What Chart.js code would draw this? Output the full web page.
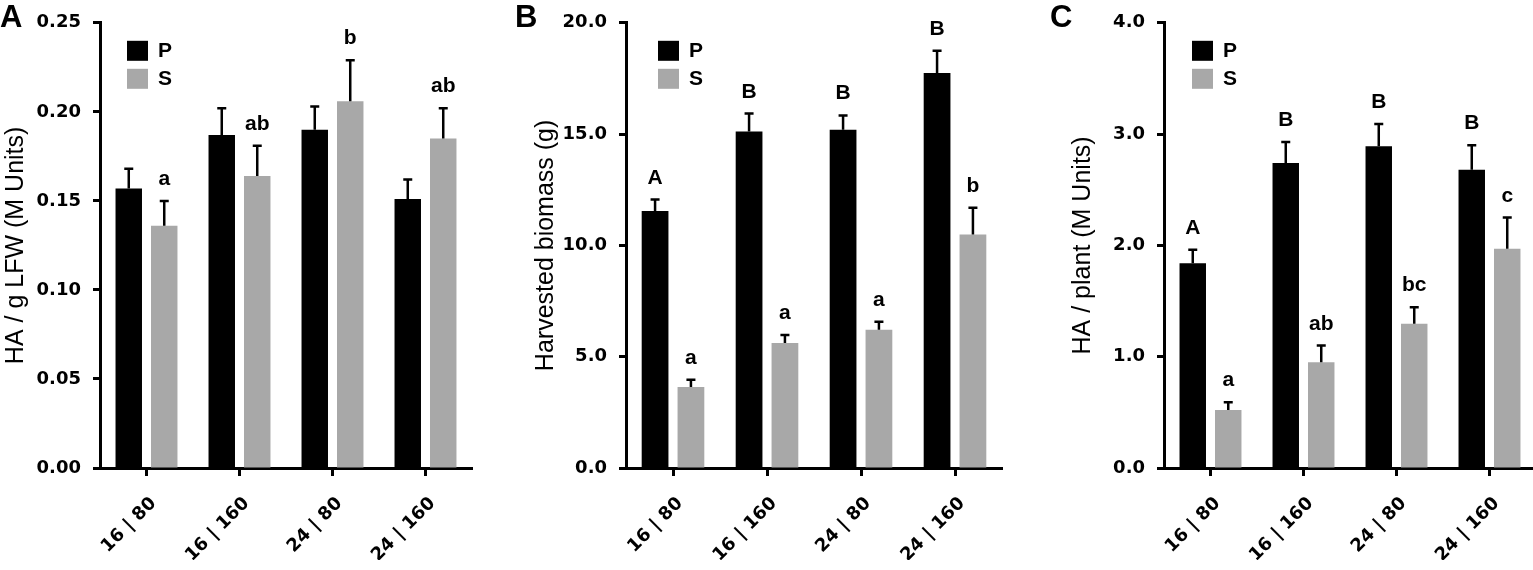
<!DOCTYPE html>
<html>
<head>
<meta charset="utf-8">
<script src="https://cdn.jsdelivr.net/npm/chart.js@4.4.0/dist/chart.umd.min.js"></script>
<style>
html, body { margin: 0; padding: 0; background: #fff; overflow: hidden; width: 1533px; height: 570px; }
.panel { position: absolute; top: 0; height: 570px; }
</style>
</head>
<body>
<div class="panel" style="left:0;width:510px"><canvas id="chartA"></canvas></div>
<div class="panel" style="left:510px;width:510px"><canvas id="chartB"></canvas></div>
<div class="panel" style="left:1020px;width:520px"><canvas id="chartC"></canvas></div>
<script>
// shared categories and series
const categories = ['16 | 80', '16 | 160', '24 | 80', '24 | 160'];
const seriesNames = ['P', 'S'];
const seriesColors = ['#000000', '#a8a8a8'];

// panel A: HA / g LFW
const haGramP = [0.157, 0.187, 0.190, 0.151];
const haGramPErr = [0.011, 0.015, 0.013, 0.011];
const haGramS = [0.136, 0.164, 0.206, 0.185];
const haGramSErr = [0.014, 0.017, 0.023, 0.017];
const haGramPLetters = ['', '', '', ''];
const haGramSLetters = ['a', 'ab', 'b', 'ab'];
const haGramTicks = [0, 0.05, 0.10, 0.15, 0.20, 0.25];

// panel B: harvested biomass
const biomassP = [11.55, 15.12, 15.2, 17.74];
const biomassPErr = [0.51, 0.8, 0.64, 1.0];
const biomassS = [3.64, 5.62, 6.21, 10.49];
const biomassSErr = [0.33, 0.36, 0.36, 1.2];
const biomassPLetters = ['A', 'B', 'B', 'B'];
const biomassSLetters = ['a', 'a', 'a', 'b'];
const biomassTicks = [0, 5, 10, 15, 20];

// panel C: HA / plant
const haPlantP = [1.84, 2.74, 2.89, 2.68];
const haPlantPErr = [0.12, 0.19, 0.20, 0.22];
const haPlantS = [0.52, 0.95, 1.295, 1.97];
const haPlantSErr = [0.07, 0.15, 0.15, 0.28];
const haPlantPLetters = ['A', 'B', 'B', 'B'];
const haPlantSLetters = ['a', 'ab', 'bc', 'c'];
const haPlantTicks = [0, 1, 2, 3, 4];

const labelFont = 'bold 21px "Liberation Sans", Arial, sans-serif';

// error bars, letters, legend and panel label
const barExtras = {
    id: 'barExtras',
    afterDatasetsDraw(chart, args, opts) {
        const ctx = chart.ctx;
        const yScale = chart.scales.y;
        const area = chart.chartArea;

        chart.data.datasets.forEach((ds, i) => {
            const meta = chart.getDatasetMeta(i);
            meta.data.forEach((bar, j) => {
                const yTop = yScale.getPixelForValue(ds.data[j] + ds.errors[j]);
                ctx.save();
                ctx.strokeStyle = '#000';
                ctx.lineWidth = 2.5;
                ctx.beginPath();
                ctx.moveTo(bar.x, bar.y);
                ctx.lineTo(bar.x, yTop);
                ctx.moveTo(bar.x - 4.5, yTop);
                ctx.lineTo(bar.x + 4.5, yTop);
                ctx.stroke();
                if (ds.letters[j]) {
                    ctx.fillStyle = '#000';
                    ctx.font = labelFont;
                    ctx.textAlign = 'center';
                    ctx.textBaseline = 'alphabetic';
                    ctx.fillText(ds.letters[j], bar.x, yTop - 16);
                }
                ctx.restore();
            });
        });

        // legend boxes
        ctx.save();
        chart.data.datasets.forEach((ds, i) => {
            const x = area.left + opts.legendX;
            const y = area.top + 18 + i * 28;
            ctx.fillStyle = ds.backgroundColor;
            ctx.fillRect(x, y, 21, 20);
            ctx.fillStyle = '#000';
            ctx.font = labelFont;
            ctx.textAlign = 'left';
            ctx.textBaseline = 'middle';
            ctx.fillText(ds.label, x + 31, y + 10);
        });

        // panel letter
        ctx.font = 'bold 31px "Liberation Sans", Arial, sans-serif';
        ctx.textBaseline = 'alphabetic';
        ctx.fillText(opts.panel, opts.panelX, 27);
        ctx.restore();
    }
};

function makePanel(id, cfg) {
    const ctx = document.getElementById(id).getContext('2d');
    return new Chart(ctx, {
        type: 'bar',
        data: {
            labels: categories,
            datasets: [{
                label: seriesNames[0],
                data: cfg.p,
                errors: cfg.pErr,
                letters: cfg.pLetters,
                backgroundColor: seriesColors[0],
                borderWidth: 0
            }, {
                label: seriesNames[1],
                data: cfg.s,
                errors: cfg.sErr,
                letters: cfg.sLetters,
                backgroundColor: seriesColors[1],
                borderWidth: 0
            }]
        },
        options: {
            responsive: true,
            maintainAspectRatio: false,
            animation: false,
            events: [],
            categoryPercentage: 0.763,
            barPercentage: 0.746,
            layout: {
                padding: { top: 22, bottom: 10, left: cfg.padLeft, right: cfg.padRight }
            },
            scales: {
                x: {
                    offset: true,
                    grid: {
                        display: true,
                        drawOnChartArea: false,
                        offset: false,
                        tickLength: 8,
                        tickWidth: 3,
                        tickColor: '#000'
                    },
                    border: { display: true, color: '#000', width: 3 },
                    ticks: {
                        color: '#000',
                        font: { family: 'DejaVu Sans', size: 18, weight: 'bold' },
                        maxRotation: 45,
                        minRotation: 45,
                        padding: 17,
                        labelOffset: 7
                    },
                    afterFit(s) {
                        s.height = 92;
                        s.paddingLeft = 0;
                        s.paddingRight = 0;
                    }
                },
                y: {
                    min: cfg.ticks[0],
                    max: cfg.ticks[cfg.ticks.length - 1],
                    afterBuildTicks(s) {
                        s.ticks = cfg.ticks.map(v => ({ value: v }));
                    },
                    grid: {
                        display: true,
                        drawOnChartArea: false,
                        tickLength: 7,
                        tickWidth: 3,
                        tickColor: '#000'
                    },
                    border: { display: true, color: '#000', width: 3 },
                    ticks: {
                        color: '#000',
                        font: { family: 'DejaVu Sans', size: 18, weight: 'bold' },
                        padding: 12,
                        callback: v => Number(v).toFixed(cfg.decimals)
                    },
                    title: {
                        display: true,
                        text: cfg.title,
                        color: '#000',
                        font: { family: 'Liberation Sans', size: 25 },
                        padding: 0
                    },
                    afterFit(s) {
                        s.width = cfg.yWidth;
                    }
                }
            },
            plugins: {
                legend: { display: false },
                tooltip: { enabled: false },
                barExtras: { legendX: cfg.legendX, panel: cfg.panel, panelX: cfg.panelX }
            }
        },
        plugins: [barExtras]
    });
}

window.addEventListener('load', function() {
    makePanel('chartA', {
        p: haGramP, pErr: haGramPErr, pLetters: haGramPLetters,
        s: haGramS, sErr: haGramSErr, sLetters: haGramSLetters,
        ticks: haGramTicks, decimals: 2,
        title: 'HA / g LFW (M Units)',
        padLeft: 1, yWidth: 99, padRight: 38,
        legendX: 27, panel: 'A', panelX: 0
    });

    makePanel('chartB', {
        p: biomassP, pErr: biomassPErr, pLetters: biomassPLetters,
        s: biomassS, sErr: biomassSErr, sLetters: biomassSLetters,
        ticks: biomassTicks, decimals: 1,
        title: 'Harvested biomass (g)',
        padLeft: 21, yWidth: 95, padRight: 18,
        legendX: 32, panel: 'B', panelX: 5
    });

    makePanel('chartC', {
        p: haPlantP, pErr: haPlantPErr, pLetters: haPlantPLetters,
        s: haPlantS, sErr: haPlantSErr, sLetters: haPlantSLetters,
        ticks: haPlantTicks, decimals: 1,
        title: 'HA / plant (M Units)',
        padLeft: 48, yWidth: 96, padRight: 4,
        legendX: 28, panel: 'C', panelX: 30
    });
});
</script>
</body>
</html>
